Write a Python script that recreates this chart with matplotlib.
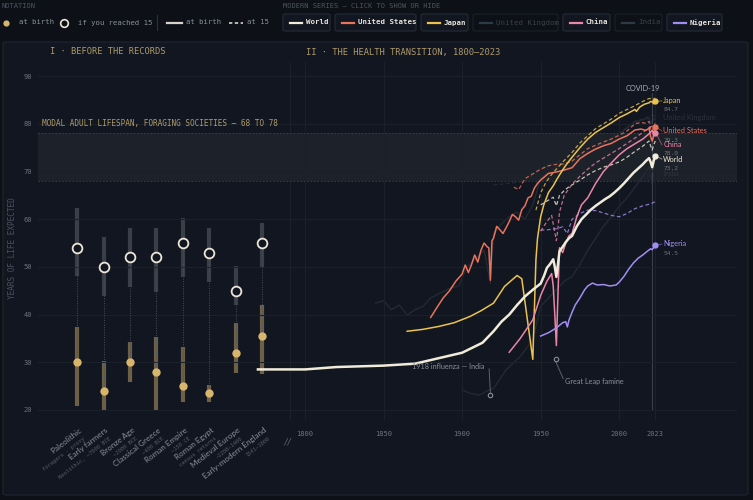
import numpy as np
import matplotlib.pyplot as plt
from matplotlib.patches import FancyBboxPatch
from matplotlib.lines import Line2D

#%% data
cats = ['Paleolithic', 'Early farmers', 'Bronze Age', 'Classical Greece',
        'Roman Empire', 'Roman Egypt', 'Medieval Europe', 'Early-modern England']
cat_subs = ['foragers · proxy', 'Neolithic, ~7000 BCE', '~2000 BCE', '~400 BCE',
            '~150 CE', 'census returns', '~1200–1400', '1541–1800']
birth = [30, 24, 30, 28, 25, 23.5, 32, 35.5]
birth_lo = [20.8, 20, 25.9, 19.9, 21.7, 21.7, 27.8, 27.5]
birth_hi = [37.3, 30.3, 34.2, 35.4, 33.3, 25.2, 38.3, 42.0]
at15 = [54, 50, 52, 52, 55, 53, 45, 55]
at15_lo = [48, 43.9, 45.8, 44.7, 47.8, 46.8, 42.0, 50.0]
at15_hi = [62.3, 56.3, 58.2, 58.2, 60.2, 58.2, 50.2, 59.3]

world_yr = [1770, 1800, 1820, 1850, 1870, 1900, 1913, 1920, 1925, 1930, 1935, 1940, 1945,
            1950, 1952, 1954, 1956, 1958, 1959, 1960, 1961, 1962, 1964, 1966, 1968, 1970,
            1973, 1976, 1979, 1982, 1985, 1988, 1991, 1994, 1997, 2000, 2003, 2006, 2009,
            2012, 2015, 2017, 2019, 2020, 2021, 2022, 2023]
world_le = [28.5, 28.5, 29.0, 29.3, 29.7, 32.0, 34.1, 36.5, 38.5, 40.0, 42.0, 43.8, 45.2,
            46.5, 48.0, 49.8, 50.6, 51.6, 50.0, 47.9, 50.5, 53.3, 54.2, 55.2, 56.0, 56.5,
            58.5, 60.0, 61.0, 62.0, 62.8, 63.5, 64.2, 64.8, 65.6, 66.5, 67.5, 68.6, 69.7,
            70.6, 71.5, 72.2, 72.8, 72.0, 70.9, 72.3, 73.2]
world15_yr = [1950, 1953, 1956, 1958, 1960, 1962, 1965, 1968, 1970, 1975, 1980, 1985, 1990,
              1995, 2000, 2005, 2010, 2015, 2019, 2020, 2021, 2022, 2023]
world15_le = [63.0, 63.6, 64.2, 64.6, 62.8, 65.0, 66.0, 66.8, 67.2, 68.2, 69.3, 70.2, 70.9,
              71.4, 72.0, 73.0, 74.2, 75.3, 76.4, 75.4, 74.5, 75.6, 76.4]

us_yr = [1880, 1884, 1888, 1892, 1896, 1900, 1902, 1904, 1906, 1908, 1910, 1912, 1914, 1916,
         1917, 1918, 1919, 1920, 1922, 1924, 1926, 1928, 1930, 1932, 1934, 1936, 1938, 1940,
         1942, 1944, 1946, 1948, 1950, 1955, 1960, 1965, 1970, 1975, 1980, 1985, 1990, 1995,
         2000, 2005, 2010, 2014, 2017, 2019, 2020, 2021, 2022, 2023]
us_le = [39.4, 41.5, 43.5, 45.0, 47.0, 48.5, 50.4, 48.8, 50.5, 52.5, 51.0, 53.5, 55.0, 54.2,
         54.0, 47.2, 55.5, 56.0, 58.5, 57.8, 57.0, 58.2, 59.5, 61.0, 60.5, 59.8, 62.0, 62.8,
         64.5, 64.8, 66.5, 67.5, 68.2, 69.6, 69.9, 70.3, 70.8, 72.7, 73.8, 74.7, 75.4, 75.9,
         76.8, 77.5, 78.7, 78.9, 78.6, 79.1, 77.3, 76.4, 77.5, 79.3]
us15_yr = [1933, 1936, 1940, 1945, 1950, 1955, 1960, 1965, 1970, 1975, 1980, 1985, 1990,
           1995, 2000, 2005, 2010, 2014, 2017, 2019, 2020, 2021, 2022, 2023]
us15_le = [66.7, 66.2, 68.5, 69.5, 70.5, 71.2, 71.5, 71.6, 72.2, 73.5, 74.8, 75.5, 76.2,
           76.8, 77.6, 78.5, 80.0, 80.3, 80.1, 80.5, 79.0, 78.2, 79.2, 80.3]

jp_yr = [1865, 1875, 1885, 1895, 1905, 1912, 1920, 1927, 1935, 1938, 1945, 1947, 1948, 1950,
         1952, 1955, 1958, 1960, 1963, 1966, 1970, 1975, 1980, 1985, 1990, 1995, 2000, 2005,
         2010, 2011, 2013, 2016, 2019, 2020, 2021, 2022, 2023]
jp_le = [36.5, 36.9, 37.5, 38.3, 39.6, 40.8, 42.4, 45.9, 48.2, 47.5, 30.6, 51.5, 56.0, 60.5,
         63.0, 65.6, 67.0, 68.2, 69.8, 71.3, 73.0, 75.0, 76.8, 78.2, 79.2, 80.2, 81.3, 82.1,
         83.0, 82.6, 83.5, 84.1, 84.4, 84.7, 84.6, 84.2, 84.7]
jp15_yr = [1947, 1950, 1953, 1956, 1960, 1965, 1970, 1975, 1980, 1985, 1990, 1995, 2000,
           2005, 2010, 2015, 2019, 2021, 2023]
jp15_le = [61.9, 65.5, 67.5, 69.0, 70.5, 72.3, 74.0, 76.0, 77.5, 79.0, 80.0, 81.0, 82.2,
           83.0, 83.8, 84.7, 85.3, 85.3, 85.3]

cn_yr = [1930, 1937, 1945, 1950, 1954, 1957, 1958, 1959, 1960, 1961, 1962, 1964, 1966, 1968,
         1970, 1973, 1976, 1980, 1985, 1990, 1995, 2000, 2005, 2010, 2015, 2019, 2020, 2021,
         2022, 2023]
cn_le = [32.1, 35.0, 38.9, 44.0, 47.0, 48.6, 46.0, 40.0, 33.5, 44.0, 54.0, 53.0, 55.0, 56.5,
         57.0, 60.5, 63.0, 64.5, 67.5, 70.0, 71.8, 73.5, 74.8, 75.8, 76.8, 77.9, 78.3, 78.6,
         78.2, 78.0]
cn15_yr = [1950, 1954, 1957, 1958, 1960, 1961, 1962, 1965, 1970, 1975, 1980, 1985, 1990,
           1995, 2000, 2005, 2010, 2015, 2019, 2021, 2023]
cn15_le = [57.5, 59.5, 60.8, 59.0, 55.5, 58.0, 61.5, 65.0, 67.3, 69.0, 70.5, 71.8, 72.8,
           73.8, 74.8, 75.9, 77.0, 78.2, 79.2, 79.5, 79.2]

ng_yr = [1950, 1955, 1960, 1964, 1966, 1967, 1968, 1970, 1972, 1975, 1978, 1980, 1983, 1986,
         1990, 1994, 1998, 2000, 2003, 2006, 2009, 2012, 2015, 2018, 2020, 2021, 2023]
ng_le = [35.5, 36.2, 37.2, 38.3, 38.5, 37.4, 38.8, 40.5, 42.0, 43.5, 45.2, 46.0, 46.6, 46.2,
         46.3, 46.0, 46.2, 46.8, 48.0, 49.5, 50.8, 51.8, 52.5, 53.3, 53.8, 53.6, 54.5]
ng15_yr = [1950, 1955, 1960, 1964, 1967, 1970, 1975, 1980, 1985, 1990, 1995, 2000, 2005,
           2010, 2015, 2020, 2023]
ng15_le = [57.7, 57.8, 58.0, 58.4, 57.0, 60.0, 61.2, 61.9, 61.8, 61.3, 60.8, 60.5, 61.2,
           62.2, 62.8, 63.2, 63.7]

uk_yr = [1845, 1850, 1855, 1860, 1865, 1870, 1875, 1880, 1886, 1892, 1898, 1903, 1908, 1914,
         1918, 1920, 1925, 1930, 1935, 1940, 1945, 1950, 1960, 1970, 1980, 1990, 2000, 2010,
         2019, 2020, 2021, 2023]
uk_le = [42.4, 42.9, 41.0, 42.0, 39.9, 41.0, 41.7, 43.5, 44.5, 45.5, 46.0, 50.0, 51.5, 53.5,
         46.5, 57.0, 59.0, 60.5, 61.5, 60.0, 63.0, 68.6, 71.0, 72.0, 73.7, 75.9, 77.9, 80.4,
         81.2, 80.0, 80.5, 81.3]
uk15_yr = [1920, 1930, 1940, 1950, 1960, 1970, 1980, 1990, 2000, 2010, 2019, 2023]
uk15_le = [67.2, 67.5, 68.0, 70.5, 72.0, 72.8, 74.2, 76.0, 78.0, 80.5, 81.5, 81.8]

in_yr = [1900, 1905, 1911, 1916, 1920, 1928, 1937, 1945, 1950, 1955, 1960, 1965, 1970, 1975,
         1980, 1985, 1990, 1995, 2000, 2005, 2010, 2015, 2019, 2020, 2021, 2022, 2023]
in_le = [24.2, 23.5, 23.1, 24.0, 24.5, 28.4, 31.2, 34.7, 41.7, 43.5, 45.2, 47.0, 48.0, 50.5,
         53.5, 56.0, 58.5, 60.5, 62.7, 64.5, 66.7, 69.0, 70.9, 70.2, 67.2, 70.2, 72.0]

flu_pt = (1918, 23.1)
leap_pt = (1959.8, 30.6)

#%% style
BG = '#0d1117'
PANEL = '#111620'
EDGE = '#1f2631'
GRID = '#1b212b'
BAND = '#1d2129'
GOLD = '#d8b46c'
TAN = '#b09c6c'
GRAY = '#6c727c'
DIM = '#232a34'
MONO = 'DejaVu Sans Mono'
SANS = 'Lato'

series = [
    ('World', '#f1ebd9', world_yr, world_le, world15_yr, world15_le, True),
    ('United States', '#ea735b', us_yr, us_le, us15_yr, us15_le, True),
    ('Japan', '#ecc24f', jp_yr, jp_le, jp15_yr, jp15_le, True),
    ('United Kingdom', DIM, uk_yr, uk_le, uk15_yr, uk15_le, False),
    ('China', '#ea86a8', cn_yr, cn_le, cn15_yr, cn15_le, True),
    ('India', DIM, in_yr, in_le, None, None, False),
    ('Nigeria', '#a28ef2', ng_yr, ng_le, ng15_yr, ng15_le, True),
]
# label placement at the right edge (layout)
label_y = {'Japan': 84.8, 'United Kingdom': 81.4, 'United States': 78.5, 'China': 75.6,
           'World': 72.6, 'India': 69.5, 'Nigeria': 54.8}

W, H = 753, 500
def fx(px): return px / W
def fy(py): return 1 - py / H

fig = plt.figure(figsize=(W / 100, H / 100), dpi=100, facecolor=BG)

# panel box
fig.add_artist(FancyBboxPatch((fx(3), fy(495)), fx(745), 453 / H,
                              boxstyle='round,pad=0,rounding_size=0.004',
                              transform=fig.transFigure, fc=PANEL, ec=EDGE, lw=0.8, zorder=0))

ax = fig.add_axes([fx(38), 0.161, fx(699), 0.7154])
ax.set_facecolor('none')
ax.set_xlim(1630, 2075)
ax.set_ylim(18, 93)
for s in ax.spines.values():
    s.set_visible(False)

ax.set_yticks(range(20, 91, 10))
ax.set_xticks([1800, 1850, 1900, 1950, 2000, 2023])
ax.tick_params(length=0, labelsize=5, labelcolor=GRAY)
ax.tick_params(axis='y', pad=4)
ax.tick_params(axis='x', pad=8)
for t in ax.get_xticklabels() + ax.get_yticklabels():
    t.set_family(MONO)
ax.grid(True, color=GRID, lw=0.8, zorder=0)
ax.axvline(1790.5, color=GRID, lw=0.8, zorder=0)

# foraging band
ax.axhspan(68, 78, color=BAND, zorder=0.5, lw=0)
for yv in (68, 78):
    ax.axhline(yv, color='#3a404b', lw=0.7, ls=(0, (1.5, 2)), zorder=0.6)
ax.text(1632.5, 79.2, 'MODAL ADULT LIFESPAN, FORAGING SOCIETIES — 68 TO 78',
        family=MONO, size=5.6, color=TAN, va='bottom', ha='left')

#%% pre-modern estimates
cat_x = 1655 + 16.8 * np.arange(len(cats))
for i, x in enumerate(cat_x):
    ax.plot([x, x], [birth[i], at15[i]], color='#4a4f59', lw=0.7, ls=(0, (1, 1.5)), zorder=2)
    ax.plot([x, x], [at15_lo[i], at15_hi[i]], color='#3a3e46', lw=3, solid_capstyle='butt', zorder=1.5)
    ax.plot([x, x], [birth_lo[i], birth_hi[i]], color='#6e6046', lw=3, solid_capstyle='butt', zorder=1.5)
    ax.plot(x, birth[i], 'o', ms=6, color=GOLD, mec='none', zorder=4)
    ax.plot(x, at15[i], 'o', ms=7, mfc=PANEL, mec='#ece6d8', mew=1.3, zorder=4)
    ax.annotate(cats[i], xy=(x, 0), xycoords=('data', 'axes fraction'), xytext=(1, -5),
                textcoords='offset points', rotation=38, rotation_mode='anchor',
                ha='right', va='top', family=SANS, size=5.8, color='#8a909b')
    ax.annotate(cat_subs[i], xy=(x, 0), xycoords=('data', 'axes fraction'), xytext=(4, -12),
                textcoords='offset points', rotation=38, rotation_mode='anchor',
                ha='right', va='top', family=MONO, size=4, color='#565c67')

ax.annotate('//', xy=(1788.5, 0), xycoords=('data', 'axes fraction'), xytext=(0, -13),
            textcoords='offset points', ha='center', va='top', family=SANS,
            style='italic', size=7, color=GRAY)

#%% modern series
for name, col, yr, le, yr15, le15, on in series:
    if not on:
        ax.plot(yr, le, color=col, lw=1, zorder=1)
        if yr15 is not None:
            ax.plot(yr15, le15, color=col, lw=0.9, ls=(0, (3, 2)), zorder=1)
        ax.text(2028, label_y[name], name, family=SANS, size=5.3, color='#2c333e', va='center')
        continue
    lw = 1.8 if name == 'World' else 1.1
    ax.plot(yr, le, color=col, lw=lw, zorder=3 if name == 'World' else 2.5)
    ax.plot(yr15, le15, color=col, lw=0.9, ls=(0, (3, 2)), alpha=0.8, zorder=2)
    ax.plot(yr[-1], le[-1], 'o', ms=3.5, color=col, zorder=4)
    ax.plot([yr[-1] + 0.5, 2027.2], [le[-1], label_y[name]], color=col, lw=0.6, alpha=0.6)
    ax.text(2028, label_y[name], name, family=SANS, size=5.3, color=col, va='center')
    ax.text(2028, label_y[name] - 1.9, f'{le[-1]:.1f}', family=MONO, size=4.5,
            color='#6c727c', va='center')

# annotations
ax.plot(*flu_pt, 'o', ms=3.2, mfc=PANEL, mec='#8a909a', mew=0.8, zorder=4)
ax.plot([flu_pt[0], flu_pt[0] - 0.8], [flu_pt[1] + 0.6, 28.6], color='#5c626c', lw=0.7)
ax.text(1914.5, 29.2, '1918 influenza — India', family=SANS, size=5.2, color='#8a909a',
        ha='right', va='center')
ax.plot(*leap_pt, 'o', ms=3.2, mfc=PANEL, mec='#8a909a', mew=0.8, zorder=4)
ax.plot([leap_pt[0], leap_pt[0] + 4.5], [leap_pt[1] - 0.6, 26.6], color='#5c626c', lw=0.7)
ax.text(1965.5, 25.9, 'Great Leap famine', family=SANS, size=5.2, color='#8a909a',
        ha='left', va='center')
ax.plot([2021, 2021], [20, 86.4], color='#3a414c', lw=0.8, zorder=1)
ax.text(2015, 87.4, 'COVID-19', family=SANS, size=5.2, color='#a9aeb6', ha='center', va='center')

#%% headers and legend
fig.text(fx(50), fy(52), 'I · BEFORE THE RECORDS', family=MONO, size=6.3, color=TAN, va='center')
fig.text(fx(306), fy(52), 'II · THE HEALTH TRANSITION, 1800–2023', family=MONO, size=6.3,
         color=TAN, va='center')
fig.text(fx(13), fy(248), 'YEARS OF LIFE EXPECTED', family=MONO, size=5.6, color='#4c535e',
         rotation=90, ha='center', va='center')

fig.text(fx(2), fy(6), 'NOTATION', family=MONO, size=5, color='#4c535e', va='center')
fig.text(fx(283), fy(6), 'MODERN SERIES — CLICK TO SHOW OR HIDE', family=MONO, size=5,
         color='#4c535e', va='center')

ly = fy(22.5)
fig.add_artist(Line2D([fx(6)], [ly], marker='o', ms=4.5, color=GOLD, mec='none'))
fig.text(fx(19), ly, 'at birth', family=MONO, size=5.2, color='#8a909a', va='center')
fig.add_artist(Line2D([fx(64)], [ly], marker='o', ms=5.5, mfc=BG, mec='#ece6d8', mew=1.2))
fig.text(fx(78), ly, 'if you reached 15', family=MONO, size=5.2, color='#8a909a', va='center')
fig.add_artist(Line2D([fx(157), fx(157)], [fy(15), fy(30)], color='#2a313b', lw=0.8))
fig.add_artist(Line2D([fx(167), fx(182)], [ly, ly], color='#d8d4cc', lw=1.6))
fig.text(fx(186), ly, 'at birth', family=MONO, size=5.2, color='#8a909a', va='center')
fig.add_artist(Line2D([fx(229), fx(243)], [ly, ly], color='#d8d4cc', lw=1.2, ls=(0, (2, 1.5))))
fig.text(fx(247), ly, 'at 15', family=MONO, size=5.2, color='#8a909a', va='center')

buttons = [(283, 330), (335, 416), (421, 468), (473, 558), (563, 610), (615, 662), (667, 722)]
for (x0, x1), (name, col, *_rest) in zip(buttons, series):
    on = _rest[-1]
    fig.add_artist(FancyBboxPatch((fx(x0), fy(31)), fx(x1 - x0), 17 / H,
                                  boxstyle='round,pad=0,rounding_size=0.003',
                                  transform=fig.transFigure, fc=PANEL if on else BG,
                                  ec='#252c37' if on else '#1a2029', lw=0.8))
    fig.add_artist(Line2D([fx(x0 + 7), fx(x0 + 19)], [ly, ly],
                          color=col if on else '#2c3a45', lw=1.6))
    fig.text(fx(x0 + 23), ly, name, family=MONO, size=5.3,
             color='#e6e2da' if on else '#39414c', weight='bold' if on else 'normal',
             va='center')

fig.savefig('out.png', dpi=100, facecolor=BG)
